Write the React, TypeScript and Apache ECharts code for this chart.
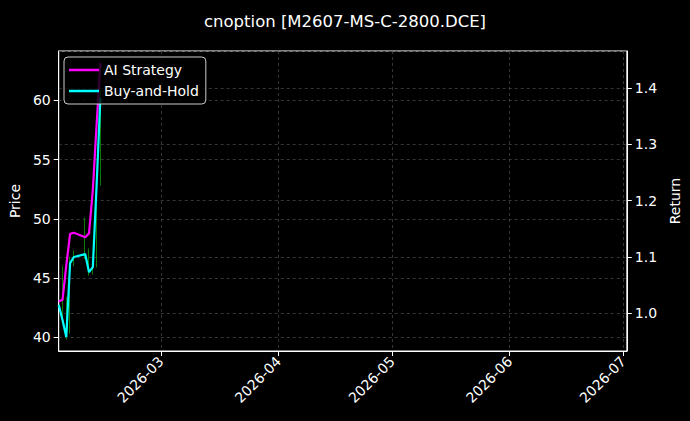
import React, { useEffect, useRef } from 'react'
import * as echarts from 'echarts'

// trading days shown in the chart
const dates = [
  '2026-02-02', '2026-02-03', '2026-02-04', '2026-02-05', '2026-02-06',
  '2026-02-09', '2026-02-10', '2026-02-11', '2026-02-12', '2026-02-13',
]

// cumulative returns (right axis)
const aiStrategy = [1.021, 1.024, 1.085, 1.141, 1.143, 1.135, 1.142, 1.219, 1.335, 1.445]
const buyAndHold = [1.015, 0.988, 0.958, 1.089, 1.1, 1.105, 1.073, 1.082, 1.228, 1.383]

// price candles: open, close, low, high (left axis)
const opens = [42.5, 42.7, 41.5, 40.5, 46.3, 47.2, 47.0, 45.5, 46.0, 53.0]
const closes = [42.7, 41.5, 40.0, 46.3, 46.8, 47.0, 45.5, 45.9, 52.9, 60.2]
const lows = [42.2, 41.2, 39.8, 40.3, 46.0, 46.6, 45.2, 45.3, 45.9, 52.8]
const highs = [43.0, 46.0, 43.4, 46.8, 47.3, 50.1, 47.5, 46.5, 53.5, 61.0]

const seriesNames = ['AI Strategy', 'Buy-and-Hold']
const title = 'cnoption [M2607-MS-C-2800.DCE]'

const FONT = 'DejaVu Sans'

const App: React.FC = () => {
  const chartRef = useRef<HTMLDivElement>(null)

  useEffect(() => {
    if (!chartRef.current) return
    const chart = echarts.init(chartRef.current, undefined, { renderer: 'svg' })

    const fmtMonth = (v: number) => {
      const d = new Date(v)
      return `${d.getFullYear()}-${String(d.getMonth() + 1).padStart(2, '0')}`
    }

    const gridLine = { show: true, lineStyle: { color: '#444444', type: [3, 3] as any, width: 0.8 } }

    const option = {
      animation: false,
      backgroundColor: '#000',
      textStyle: { fontFamily: FONT },
      title: {
        text: title,
        left: 'center',
        top: 8,
        textStyle: { color: '#fff', fontSize: 16.5, fontWeight: 'normal', fontFamily: FONT },
      },
      legend: {
        data: seriesNames,
        left: 64,
        top: 57,
        orient: 'vertical',
        icon: 'rect',
        itemWidth: 30,
        itemHeight: 2.5,
        itemGap: 7,
        padding: [6, 7, 6, 5],
        backgroundColor: 'rgba(0,0,0,0.8)',
        borderColor: '#cccccc',
        borderWidth: 1,
        borderRadius: 4,
        textStyle: { color: '#fff', fontSize: 14, fontFamily: FONT },
      },
      grid: {
        left: 58,
        right: 61,
        top: 51,
        bottom: 70,
        show: true,
        borderColor: '#fff',
        borderWidth: 1,
        backgroundColor: 'transparent',
      },
      xAxis: {
        type: 'time',
        min: new Date(2026, 1, 2).getTime(),
        max: new Date(2026, 6, 1, 22).getTime(),
        splitNumber: 5,
        axisLine: { lineStyle: { color: '#fff', width: 1 } },
        axisTick: { show: true, length: 5, lineStyle: { color: '#fff' } },
        axisLabel: {
          color: '#fff',
          fontSize: 14,
          fontFamily: FONT,
          rotate: 45,
          margin: 8,
          showMinLabel: false,
          showMaxLabel: false,
          formatter: (v: number) => fmtMonth(v),
        },
        splitLine: gridLine,
      },
      yAxis: [
        {
          type: 'value',
          name: 'Price',
          nameLocation: 'middle',
          nameRotate: 90,
          nameGap: 34,
          nameTextStyle: { color: '#fff', fontSize: 14, fontFamily: FONT },
          min: 38.84,
          max: 64.16,
          splitNumber: 5,
          position: 'left',
          axisLine: { show: true, lineStyle: { color: '#fff' } },
          axisTick: { show: true, length: 5, lineStyle: { color: '#fff' } },
          axisLabel: { color: '#fff', fontSize: 14, fontFamily: FONT, margin: 8, showMinLabel: false, showMaxLabel: false },
          splitLine: gridLine,
        },
        {
          type: 'value',
          name: 'Return',
          nameLocation: 'middle',
          nameRotate: 90,
          nameGap: 36,
          nameTextStyle: { color: '#fff', fontSize: 14, fontFamily: FONT },
          min: 0.933,
          max: 1.466,
          splitNumber: 5,
          position: 'right',
          axisLine: { show: true, lineStyle: { color: '#fff' } },
          axisTick: { show: true, length: 5, lineStyle: { color: '#fff' } },
          axisLabel: {
            color: '#fff',
            fontSize: 14,
            fontFamily: FONT,
            margin: 8,
            showMinLabel: false,
            showMaxLabel: false,
            formatter: (v: number) => v.toFixed(1),
          },
          splitLine: gridLine,
        },
      ],
      series: [
        {
          name: 'Price',
          type: 'candlestick',
          yAxisIndex: 0,
          barWidth: 1,
          itemStyle: {
            color: '#0b7a0b',
            color0: '#0b7a0b',
            borderColor: '#0b7a0b',
            borderColor0: '#0b7a0b',
            borderWidth: 1,
          },
          encode: { x: 0, y: [1, 2, 3, 4] },
          data: dates.map((d, i) => [d, opens[i], closes[i], lows[i], highs[i]]),
          z: 1,
        },
        {
          name: seriesNames[0],
          type: 'line',
          yAxisIndex: 1,
          showSymbol: false,
          symbol: 'none',
          color: '#ff00ff',
          lineStyle: { color: '#ff00ff', width: 2.2 },
          data: dates.map((d, i) => [d, aiStrategy[i]]),
          z: 2,
        },
        {
          name: seriesNames[1],
          type: 'line',
          yAxisIndex: 1,
          showSymbol: false,
          symbol: 'none',
          color: '#00ffff',
          lineStyle: { color: '#00ffff', width: 2.2 },
          data: dates.map((d, i) => [d, buyAndHold[i]]),
          z: 3,
        },
      ],
    }

    chart.setOption(option as any)

    return () => {
      chart.dispose()
    }
  }, [])

  return (
    <div
      ref={chartRef}
      style={{ position: 'fixed', left: 0, top: 0, width: '690px', height: '421px' }}
    />
  )
}

export default App
